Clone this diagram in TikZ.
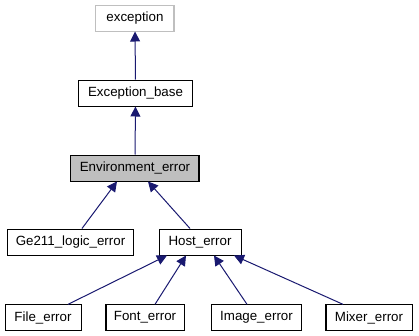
\documentclass[tikz,border=0pt]{standalone}
\usepackage{fontspec}
\setmainfont{Liberation Sans}
\usetikzlibrary{arrows.meta}
\definecolor{edgeblue}{HTML}{191970}
\definecolor{boxgray}{HTML}{BFBFBF}
\begin{document}
\begin{tikzpicture}[x=0.75pt,y=-0.75pt,
  cls/.style={draw=black,line width=0.75pt,fill=white,inner sep=0pt,
    minimum height=19.5pt,font=\fontsize{10}{12}\selectfont,text=black},
  ext/.style={cls,draw=boxgray},
  cur/.style={cls,fill=boxgray},
  inherit/.style={draw=edgeblue,line width=0.75pt,
    {Triangle[length=7.5pt,width=7.5pt,fill=edgeblue]}-}]
\useasboundingbox (0,0) rectangle (419,336);
% classes
\node[ext,minimum width=58.5pt] (exc) at (135,18) {exception};
\node[cls,minimum width=86pt] (base) at (135.5,93) {Exception\_base};
\node[cur,minimum width=96pt] (env) at (135,168) {Environment\_error};
\node[cls,minimum width=95pt] (ge) at (70.5,242) {Ge211\_logic\_error};
\node[cls,minimum width=61.5pt] (host) at (200,242) {Host\_error};
\node[cls,minimum width=57pt,minimum height=19pt] (file) at (43,317.5) {File\_error};
\node[cls,minimum width=58.5pt,minimum height=19pt] (font) at (145,317.5) {Font\_error};
\node[cls,minimum width=68pt,minimum height=19pt] (image) at (256.5,317.5) {Image\_error};
\node[cls,minimum width=64.5pt,minimum height=19pt] (mixer) at (369,317.5) {Mixer\_error};
% inheritance edges, arrow at the base class
\draw[inherit] (exc.south) -- (base.north);
\draw[inherit] (base.south) -- (env.north);
\draw[inherit] ([xshift=-13.5pt]env.south) -- ([xshift=8.6pt]ge.north);
\draw[inherit] ([xshift=9.75pt]env.south) -- ([xshift=-7.5pt]host.north);
\draw[inherit] ([xshift=-24.75pt]host.south) -- ([xshift=18.75pt]file.north);
\draw[inherit] ([xshift=-10.5pt]host.south) -- ([xshift=7.5pt]font.north);
\draw[inherit] ([xshift=10.5pt]host.south) -- ([xshift=-7.1pt]image.north);
\draw[inherit] ([xshift=25.5pt]host.south) -- ([xshift=-19.5pt]mixer.north);
\end{tikzpicture}
\end{document}
